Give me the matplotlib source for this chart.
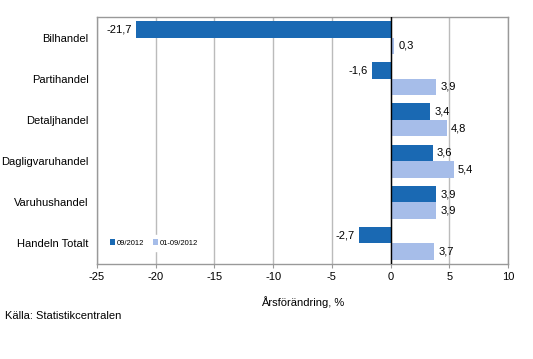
import numpy as np
import matplotlib.pyplot as plt

plt.rcParams['font.family'] = ['Liberation Sans', 'DejaVu Sans']
plt.rcParams['axes.unicode_minus'] = False

categories = ['Bilhandel', 'Partihandel', 'Detaljhandel', 'Dagligvaruhandel', 'Varuhushandel', 'Handeln Totalt']
month = [-21.7, -1.6, 3.4, 3.6, 3.9, -2.7]
ytd = [0.3, 3.9, 4.8, 5.4, 3.9, 3.7]
series_names = ['09/2012', '01-09/2012']

c_dark = '#1a69b3'
c_light = '#a6bde9'

fig = plt.figure(figsize=(5.33, 3.59), dpi=100)
ax = fig.add_axes([97/533, 1 - 264/359, (508 - 97)/533, (264 - 17)/359])

y = np.arange(len(categories))
h = 0.4
b1 = ax.barh(y - h/2, month, height=h, color=c_dark, zorder=3)
b2 = ax.barh(y + h/2, ytd, height=h, color=c_light, zorder=3)

def fmt(v):
    return ('%.1f' % v).replace('.', ',')

for i in range(len(categories)):
    v = month[i]
    if v < 0:
        ax.text(v - 0.35, y[i] - h/2, fmt(v), ha='right', va='center', fontsize=8, zorder=5)
    else:
        ax.text(v + 0.35, y[i] - h/2, fmt(v), ha='left', va='center', fontsize=8, zorder=5)
    v = ytd[i]
    ax.text(v + 0.35, y[i] + h/2, fmt(v), ha='left', va='center', fontsize=8, zorder=5)

ax.set_xlim(-25, 10)
ax.set_ylim(len(categories) - 0.5, -0.5)
ax.set_xticks(np.arange(-25, 11, 5))
ax.set_yticks(y)
ax.set_yticklabels(categories, fontsize=8)
ax.tick_params(axis='x', labelsize=8, length=3, color='#999999', pad=3)
ax.tick_params(axis='y', length=0, pad=6)
ax.xaxis.grid(True, color='#bbbbbb', linewidth=1, zorder=0)
ax.axvline(0, color='black', linewidth=1, zorder=4)
for s in ax.spines.values():
    s.set_color('#999999')
    s.set_linewidth(1)

ax.set_xlabel('Årsförändring, %', fontsize=8, labelpad=10)

leg = ax.legend([b1, b2], series_names, loc='center left', bbox_to_anchor=(0.01, 0.085),
                ncol=2, fontsize=5.5, frameon=True, handlelength=0.7, handleheight=0.7,
                handletextpad=0.2, columnspacing=1.2, borderpad=0.6)
leg.get_frame().set_edgecolor('white')
leg.get_frame().set_facecolor('white')
leg.get_frame().set_alpha(1)
leg.set_zorder(6)

fig.text(5/533, 1 - 316/359, 'Källa: Statistikcentralen', fontsize=8, va='center')

fig.savefig('out.png', dpi=100)
